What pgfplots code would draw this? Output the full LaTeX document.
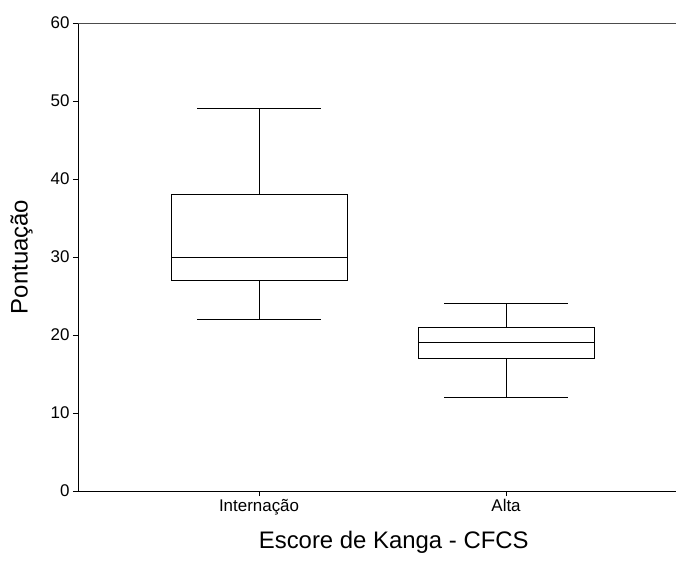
\documentclass[border=0pt]{standalone}
\usepackage{pgfplots}
\pgfplotsset{compat=1.18}
\usepackage{fontspec}
\setmainfont{Liberation Sans}
\pgfplotsset{bx/.style={black, solid, no marks, line width=0.8bp}}
\begin{document}
\begin{tikzpicture}
\begin{axis}[
 name=ax,
 scale only axis,
 width=598bp, height=468bp,
 xmin=-0.733, xmax=1.688,
 ymin=0, ymax=60,
 ytick={0,10,...,60},
 xtick={0,1},
 xticklabels={Internação, Alta},
 axis x line*=bottom, axis y line*=left,
 axis line style={line width=0.9bp, -},
 tick align=outside,
 major tick length=5bp,
 tick style={black, line width=0.8bp},
 ticklabel style={font=\fontsize{17}{20}\selectfont},
 /pgf/number format/assume math mode=true,
 xlabel={Escore de Kanga - CFCS},
 ylabel={Pontuação},
 label style={font=\fontsize{24}{28}\selectfont},
 xlabel style={at={(axis description cs:0.528,-0.1218)}, anchor=base},
 ylabel style={at={(axis description cs:-0.07,0.5)}, anchor=south},
 clip=false,
]
% Internação: lower whisker 22, Q1 27, median 30, Q3 38, upper whisker 49
\addplot[bx] coordinates {(-0.35625,27) (0.35625,27) (0.35625,38) (-0.35625,38) (-0.35625,27)};
\addplot[bx] coordinates {(-0.35625,30) (0.35625,30)};
\addplot[bx] coordinates {(0,38) (0,49)};
\addplot[bx] coordinates {(-0.25,49) (0.25,49)};
\addplot[bx] coordinates {(0,27) (0,22)};
\addplot[bx] coordinates {(-0.25,22) (0.25,22)};
% Alta: lower whisker 12, Q1 17, median 19, Q3 21, upper whisker 24
\addplot[bx] coordinates {(0.64375,17) (1.35625,17) (1.35625,21) (0.64375,21) (0.64375,17)};
\addplot[bx] coordinates {(0.64375,19) (1.35625,19)};
\addplot[bx] coordinates {(1,21) (1,24)};
\addplot[bx] coordinates {(0.75,24) (1.25,24)};
\addplot[bx] coordinates {(1,17) (1,12)};
\addplot[bx] coordinates {(0.75,12) (1.25,12)};
\draw[gray!60!black, line width=0.9bp] (rel axis cs:0,1) -- (rel axis cs:1,1);
\end{axis}
\pgfresetboundingbox
\path[use as bounding box] ([xshift=-78bp,yshift=-82bp]ax.south west) rectangle ([xshift=598bp,yshift=491bp]ax.south west);
\end{tikzpicture}
\end{document}
